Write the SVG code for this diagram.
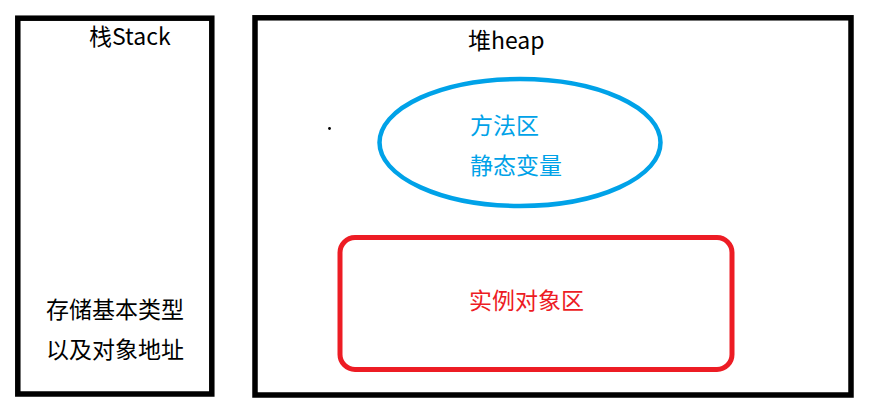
<svg xmlns="http://www.w3.org/2000/svg" width="870" height="420" viewBox="0 0 870 420">
<style>
.box{fill:none;stroke:#000;stroke-width:5.5}
.t{font-family:"Noto Sans CJK SC","Noto Sans",sans-serif;font-size:23px}
.k{fill:#000}
.b{fill:#00a2e8}
.r{fill:#ed1c24}
</style>
<rect width="870" height="420" fill="#fff"/>
<g id="stack">
<rect class="box" x="17.8" y="18.2" width="194" height="375.8"/>
<text class="t k" x="89" y="45">栈Stack</text>
<text class="t k" x="46" y="318">存储基本类型</text>
<text class="t k" x="46" y="358">以及对象地址</text>
</g>
<g id="heap">
<rect class="box" x="255" y="17.8" width="596" height="377.2"/>
<text class="t k" x="468" y="49">堆heap</text>
<circle cx="329.5" cy="128.5" r="1.4" fill="#000"/>
</g>
<g id="method-area">
<ellipse cx="520" cy="142.5" rx="140.5" ry="63.5" fill="none" stroke="#00a2e8" stroke-width="4.5"/>
<text class="t b" x="470" y="134">方法区</text>
<text class="t b" x="470" y="174">静态变量</text>
</g>
<g id="instance-area">
<rect x="340" y="237.5" width="392" height="132" rx="15" ry="15" fill="none" stroke="#ed1c24" stroke-width="5"/>
<text class="t r" x="469" y="309">实例对象区</text>
</g>
<g id="connectors"></g>
</svg>
